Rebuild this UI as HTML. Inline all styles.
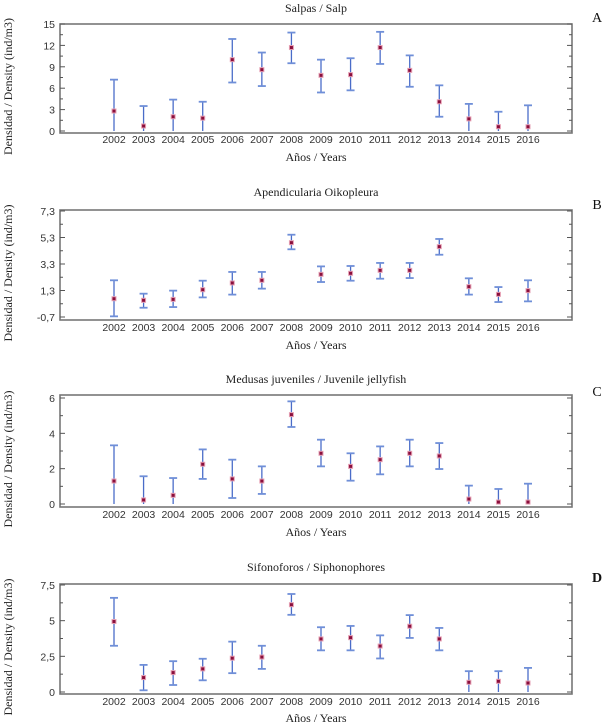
<!DOCTYPE html>
<html><head><meta charset="utf-8">
<style>
html,body{margin:0;padding:0;background:#fff;}
svg{display:block;}
.serif{font-family:"Liberation Serif",serif;}
.sans{font-family:"Liberation Sans",sans-serif;}
</style></head>
<body>
<svg id="chart" width="602" height="726" viewBox="0 0 602 726" xmlns="http://www.w3.org/2000/svg"></svg>
<script>
const years = [2002,2003,2004,2005,2006,2007,2008,2009,2010,2011,2012,2013,2014,2015,2016];
const salpMean = [2.8,0.7,2.0,1.8,10.0,8.6,11.7,7.8,7.9,11.7,8.5,4.1,1.7,0.6,0.6];
const salpLow  = [0,0,0,0,6.8,6.3,9.5,5.4,5.7,9.4,6.2,2.0,0,0,0];
const salpHigh = [7.2,3.5,4.4,4.1,12.9,11.0,13.8,10.0,10.2,13.9,10.6,6.4,3.8,2.7,3.6];
const salpTicks = [0,3,6,9,12,15];
const salpTickLabels = ["0","3","6","9","12","15"];
const oikoMean = [0.68,0.56,0.63,1.36,1.87,2.07,4.91,2.52,2.6,2.82,2.82,4.61,1.59,1.01,1.29];
const oikoLow  = [-0.65,0.0,0.05,0.78,0.99,1.44,4.41,1.94,2.04,2.19,2.24,4.0,0.99,0.43,0.48];
const oikoHigh = [2.07,1.06,1.29,2.04,2.7,2.7,5.51,3.12,3.15,3.38,3.38,5.19,2.22,1.56,2.07];
const oikoTicks = [-0.7,1.3,3.3,5.3,7.3];
const oikoTickLabels = ["-0,7","1,3","3,3","5,3","7,3"];
const medMean = [1.3,0.23,0.49,2.25,1.42,1.3,5.06,2.87,2.13,2.51,2.87,2.72,0.28,0.11,0.11];
const medLow  = [0,0,0,1.42,0.34,0.57,4.36,2.13,1.32,1.68,2.13,1.98,0,0,0];
const medHigh = [3.32,1.57,1.47,3.09,2.51,2.13,5.81,3.64,2.87,3.26,3.64,3.45,1.04,0.85,1.15];
const medTicks = [0,2,4,6];
const medTickLabels = ["0","2","4","6"];
const sifMean = [4.94,1.01,1.36,1.62,2.37,2.45,6.12,3.72,3.81,3.22,4.61,3.72,0.68,0.75,0.63];
const sifLow  = [3.24,0.12,0.49,0.82,1.32,1.62,5.41,2.92,2.92,2.35,3.79,2.92,0,0,0];
const sifHigh = [6.6,1.9,2.16,2.33,3.53,3.24,6.87,4.54,4.63,3.97,5.39,4.49,1.46,1.46,1.69];
const sifTicks = [0,2.5,5,7.5];
const sifTickLabels = ["0","2,5","5","7,5"];

const NS="http://www.w3.org/2000/svg";
const svg=document.getElementById('chart');
function mk(tag,attrs,parent){const e=document.createElementNS(NS,tag);for(const k in attrs)e.setAttribute(k,attrs[k]);(parent||svg).appendChild(e);return e;}

const panels=[
 {key:'salp',title:'Salpas / Salp',letter:'A',mean:salpMean,low:salpLow,high:salpHigh,ticks:salpTicks,labels:salpTickLabels,top:24,bot:133,vTop:24,vBot:131,titleY:12,yearY:143,xlY:161,letY:22},
 {key:'oiko',title:'Apendicularia Oikopleura',letter:'B',mean:oikoMean,low:oikoLow,high:oikoHigh,ticks:oikoTicks,labels:oikoTickLabels,top:210,bot:320,vTop:211,vBot:317,titleY:196,yearY:331,xlY:349,letY:209},
 {key:'med',title:'Medusas juveniles / Juvenile jellyfish',letter:'C',mean:medMean,low:medLow,high:medHigh,ticks:medTicks,labels:medTickLabels,top:395,bot:507,vTop:398,vBot:504,titleY:383,yearY:518,xlY:536,letY:396},
 {key:'sif',title:'Sifonoforos / Siphonophores',letter:'D',mean:sifMean,low:sifLow,high:sifHigh,ticks:sifTicks,labels:sifTickLabels,top:584,bot:694,vTop:585,vBot:692,titleY:571,yearY:705,xlY:722,letY:582}
];
const L=60,R=572;
function xs(i){return 114+(528-114)*i/(years.length-1);}

panels.forEach(p=>{
 const g=mk('g',{});
 
 
 const t0=p.ticks[0],t1=p.ticks[p.ticks.length-1];
 const ys=v=>p.vBot-(v-t0)/(t1-t0)*(p.vBot-p.vTop);
 const tt=mk('text',{x:316,y:p.titleY,'text-anchor':'middle','font-size':12,class:'serif',fill:'#222'},g);
 tt.textContent=p.title;
 
 
 const lt=mk('text',{x:597,y:p.letY,'text-anchor':'middle','font-size':14,class:'serif',fill:'#111','font-weight':p.letter==='D'?'bold':'normal'},g);
 lt.textContent=p.letter;
 
 
 const fr=mk('rect',{x:L,y:p.top,width:R-L,height:p.bot-p.top,fill:'none',stroke:'#777','stroke-width':1.6},g);
 
 
 // ticks
 for(let k=0;k<p.ticks.length;k++){
  const y=ys(p.ticks[k]);
  mk('line',{x1:L,x2:L+5,y1:y,y2:y,stroke:'#555','stroke-width':1},g);
  mk('line',{x1:R-5,x2:R,y1:y,y2:y,stroke:'#555','stroke-width':1},g);
  const tl=mk('text',{x:L-5,y:y+4,'text-anchor':'end','font-size':10.5,class:'sans',fill:'#333'},g);
  tl.textContent=p.labels[k];
  
  
  if(k<p.ticks.length-1){
   const ym=ys((p.ticks[k]+p.ticks[k+1])/2);
   mk('line',{x1:L,x2:L+3,y1:ym,y2:ym,stroke:'#555','stroke-width':1},g);
   mk('line',{x1:R-3,x2:R,y1:ym,y2:ym,stroke:'#555','stroke-width':1},g);
  }
 }
 years.forEach((yr,i)=>{
  const x=xs(i);
  const yl=mk('text',{x:x,y:p.yearY,'text-anchor':'middle','font-size':10.5,class:'sans',fill:'#333'},g);
  yl.textContent=yr;
  
  
  const eb=mk('g',{},g);
  
  
  const yh=ys(p.high[i]),ylo=p.low[i]<=0&&p.key!=='oiko'?p.vBot:ys(p.low[i]);
  mk('line',{x1:x,x2:x,y1:yh,y2:ylo,stroke:'#4a6cc8','stroke-width':1.3},eb);
  mk('line',{x1:x-4,x2:x+4,y1:yh,y2:yh,stroke:'#6f8fd8','stroke-width':1.8},eb);
  if(!(p.low[i]<=0&&p.key!=='oiko')) mk('line',{x1:x-4,x2:x+4,y1:ylo,y2:ylo,stroke:'#6f8fd8','stroke-width':1.8},eb);
  const ym=ys(p.mean[i]);
  mk('rect',{x:x-2.5,y:ym-2.5,width:5,height:5,fill:'#e6a0b4'},eb);
  const pt=mk('rect',{x:x-1.5,y:ym-1.5,width:3,height:3,fill:'#8a0f3c'},eb);
  
  
 });
 const xl=mk('text',{x:316,y:p.xlY,'text-anchor':'middle','font-size':12,class:'serif',fill:'#222'},g);
 xl.textContent='Años / Years';
 
 
 const cy=(p.top+p.bot)/2+8;
 const yt=mk('text',{x:0,y:0,'text-anchor':'middle','font-size':12,class:'serif',fill:'#222',transform:`translate(12,${cy}) rotate(-90)`},g);
 yt.textContent='Densidad / Density (ind/m3)';
 
 
});
</script>
</body></html>
